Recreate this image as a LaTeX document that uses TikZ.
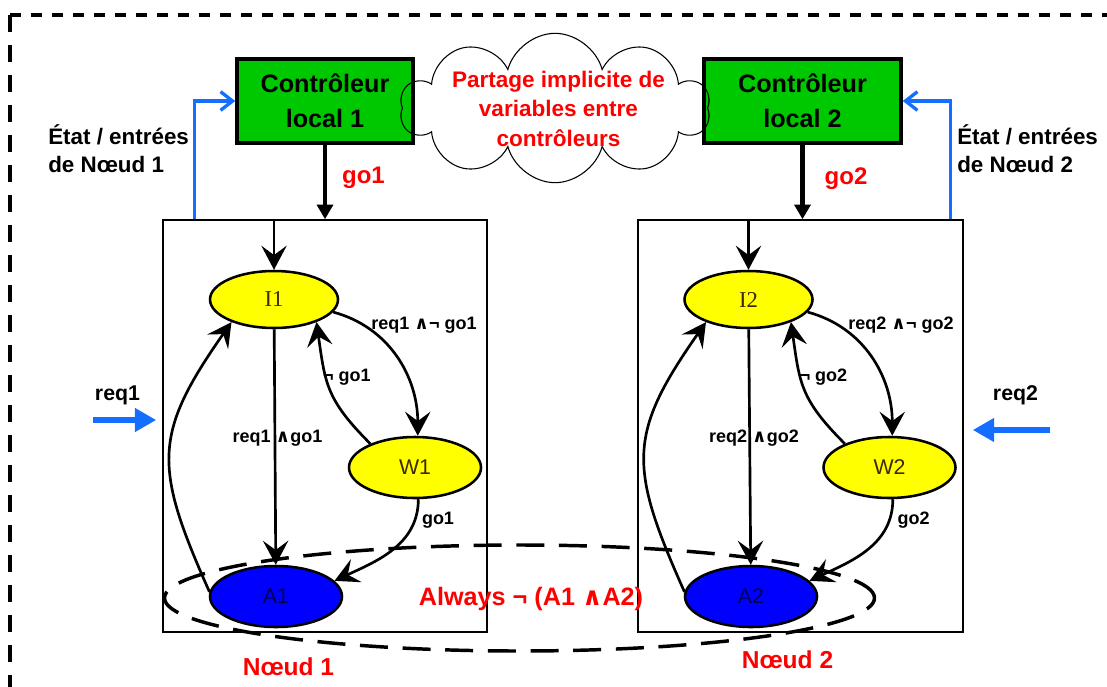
\documentclass[tikz,border=0pt]{standalone}
\usepackage{fontspec}
\setmainfont{Liberation Sans}
\newfontfamily\serifstate{Liberation Serif}
\newfontfamily\mathsym{DejaVu Sans}
\usepackage{tikz}
\usetikzlibrary{positioning,arrows.meta,shapes.geometric,shapes.symbols,calc}

\definecolor{ctrlgreen}{RGB}{0,200,0}
\definecolor{stateyellow}{RGB}{255,255,0}
\definecolor{stateblue}{RGB}{0,0,255}
\definecolor{linkblue}{RGB}{20,110,255}
\definecolor{alarmred}{RGB}{255,0,0}
\definecolor{itext}{RGB}{60,40,0}
\definecolor{atext}{RGB}{0,0,80}

\newcommand{\andsym}{{\mathsym ∧}}

\begin{document}
\begin{tikzpicture}[
      x=0.75pt, y=-0.75pt,
      ctrl/.style={rectangle, draw, line width=2.6pt, fill=ctrlgreen, minimum height=63pt, align=center, font=\bfseries\fontsize{18.9}{26.25}\selectfont},
      nodebox/.style={rectangle, draw, line width=1.2pt, minimum width=243pt, minimum height=309pt},
      state/.style={ellipse, draw, line width=1.9pt, inner sep=0pt, minimum width=99pt, minimum height=45.75pt},
      yel/.style={state, fill=stateyellow, text=itext, font=\fontsize{16}{18}\selectfont},
      blu/.style={state, fill=stateblue, text=atext, font=\fontsize{16}{18}\selectfont},
      trans/.style={line width=2pt, -{Stealth[length=18pt,width=19pt,inset=7pt]}},
      ctrlarrow/.style={line width=3.5pt, -{Triangle[length=11pt,width=12pt]}},
      feedback/.style={color=linkblue, line width=2.5pt, -{Straight Barb[length=9pt,width=14pt]}},
      reqarrow/.style={color=linkblue, line width=5pt, -{Triangle[length=16pt,width=17pt]}},
      lbl/.style={inner sep=0pt, font=\bfseries\fontsize{13.5}{16}\selectfont},
      redlbl/.style={inner sep=0pt, text=alarmred, font=\bfseries\fontsize{18.4}{22}\selectfont},
      side/.style={inner sep=0pt, align=left, font=\bfseries\fontsize{16.8}{21}\selectfont},
    ]
      \useasboundingbox (0,0) rectangle (1107,686);

      % outer frame
      \draw[line width=2.6pt, dash pattern=on 8.25pt off 7.5pt] (10,15) -- (1120,15);
      \draw[line width=2.6pt, dash pattern=on 12.75pt off 9.75pt] (10,15) -- (10,700);

      % nodes
      \node[nodebox] (n1) at (325,426) {};
      \node[nodebox, minimum width=243.75pt] (n2) at (800.5,426) {};

      % Always not (A1 and A2)
      \node[ellipse, draw, line width=2.6pt, dash pattern=on 21pt off 11pt, minimum width=532.5pt, minimum height=79.5pt] (mutex) at (519.5,598) {};

      % states of node 1
      \node[yel, minimum width=96pt, minimum height=42.75pt, font=\serifstate\fontsize{17}{19}\selectfont] (i1) at (274,299.5) {I1};
      \node[yel] (w1) at (415,467.5) {W1};
      \node[blu] (a1) at (276,596.5) {A1};

      % states of node 2
      \node[yel, minimum width=96pt, minimum height=42.75pt, font=\serifstate\fontsize{17}{19}\selectfont] (i2) at (748.5,299.5) {I2};
      \node[yel] (w2) at (889.5,467.5) {W2};
      \node[blu] (a2) at (751,596.5) {A2};

      % transitions 1
      \draw[trans] (n1.north -| i1) -- (i1);
      \draw[trans] (i1) -- (a1);
      \draw[trans] (i1.-12) to[out=-15,in=90] (w1.85);
      \draw[trans] (w1.152) to[out=135,in=-82,looseness=1.2] (i1.-28);
      \draw[trans] (w1.-84) to[out=-90,in=25] (a1.15);
      \draw[trans] (a1.176) to[out=114,in=-125,looseness=1.3] (i1.-152);
      \node[lbl] (l1req) at (424,325) {req1 \andsym¬ go1};
      \node[lbl] (l1nogo) at (347,377) {¬ go1};
      \node[lbl] (l1go) at (277.5,438) {req1 \andsym go1};
      \node[lbl] (l1wgo) at (438,520) {go1};

      % transitions 2
      \draw[trans] (n2.north -| i2) -- (i2);
      \draw[trans] (i2) -- (a2);
      \draw[trans] (i2.-12) to[out=-15,in=90] (w2.85);
      \draw[trans] (w2.152) to[out=135,in=-82,looseness=1.2] (i2.-28);
      \draw[trans] (w2.-84) to[out=-90,in=25] (a2.15);
      \draw[trans] (a2.176) to[out=114,in=-125,looseness=1.3] (i2.-152);
      \node[lbl] (l2req) at (901,325) {req2 \andsym¬ go2};
      \node[lbl] (l2nogo) at (823.5,377) {¬ go2};
      \node[lbl] (l2go) at (754,438) {req2 \andsym go2};
      \node[lbl] (l2wgo) at (913.5,520) {go2};

      % controllers
      \node[ctrl, minimum width=132pt] (c1) at (325,101) {Contrôleur\\local 1};
      \node[ctrl, minimum width=147.75pt] (c2) at (802.5,101) {Contrôleur\\local 2};

      \node[cloud, draw, line width=0.8pt, cloud puffs=10, aspect=2, inner sep=0pt, minimum width=232pt, minimum height=112pt] (share) at (555,108) {};
      \node[align=center, text=alarmred, font=\bfseries\fontsize{16.9}{22.1}\selectfont] (sharetxt) at (558.5,108.5) {Partage implicite de\\variables entre\\contrôleurs};

      \draw[ctrlarrow] (c1.south) -- (c1.south |- n1.north);
      \draw[ctrlarrow] (c2.south) -- (c2.south |- n2.north);
      \node[redlbl, font=\bfseries\fontsize{18}{22}\selectfont] (go1) at (363.5,178) {go1};
      \node[redlbl, font=\bfseries\fontsize{18}{22}\selectfont] (go2) at (846,179) {go2};

      % state / inputs
      \coordinate (fb1) at ($(n1.north west)+(32,0)$);
      \draw[feedback] (fb1) |- (c1.west);
      \coordinate (fb2) at ($(n2.north east)+(-13,0)$);
      \draw[feedback] (fb2) |- (c2.east);
      \node[side, anchor=west] (st1) at (48,149) {État / entrées\\de Nœud 1};
      \node[side, anchor=west] (st2) at (957,149) {État / entrées\\de Nœud 2};

      % requests
      \coordinate (r1) at (93,420);
      \draw[reqarrow, shorten >=4.5pt] (r1) -- (r1 -| n1.west);
      \node[side, font=\bfseries\fontsize{16}{20}\selectfont] (req1) at (117.5,395) {req1};
      \coordinate (r2) at (1050,430);
      \draw[reqarrow, shorten >=6.75pt] (r2) -- (r2 -| n2.east);
      \node[side, font=\bfseries\fontsize{16}{20}\selectfont] (req2) at (1015.5,395) {req2};

      \node[redlbl, font=\bfseries\fontsize{18.9}{22}\selectfont] (always) at (531,599) {Always ¬ (A1 \andsym A2)};
      \node[redlbl] (nd1) at (288.5,667) {Nœud 1};
      \node[redlbl] (nd2) at (787.5,660) {Nœud 2};
    \end{tikzpicture}
\end{document}
